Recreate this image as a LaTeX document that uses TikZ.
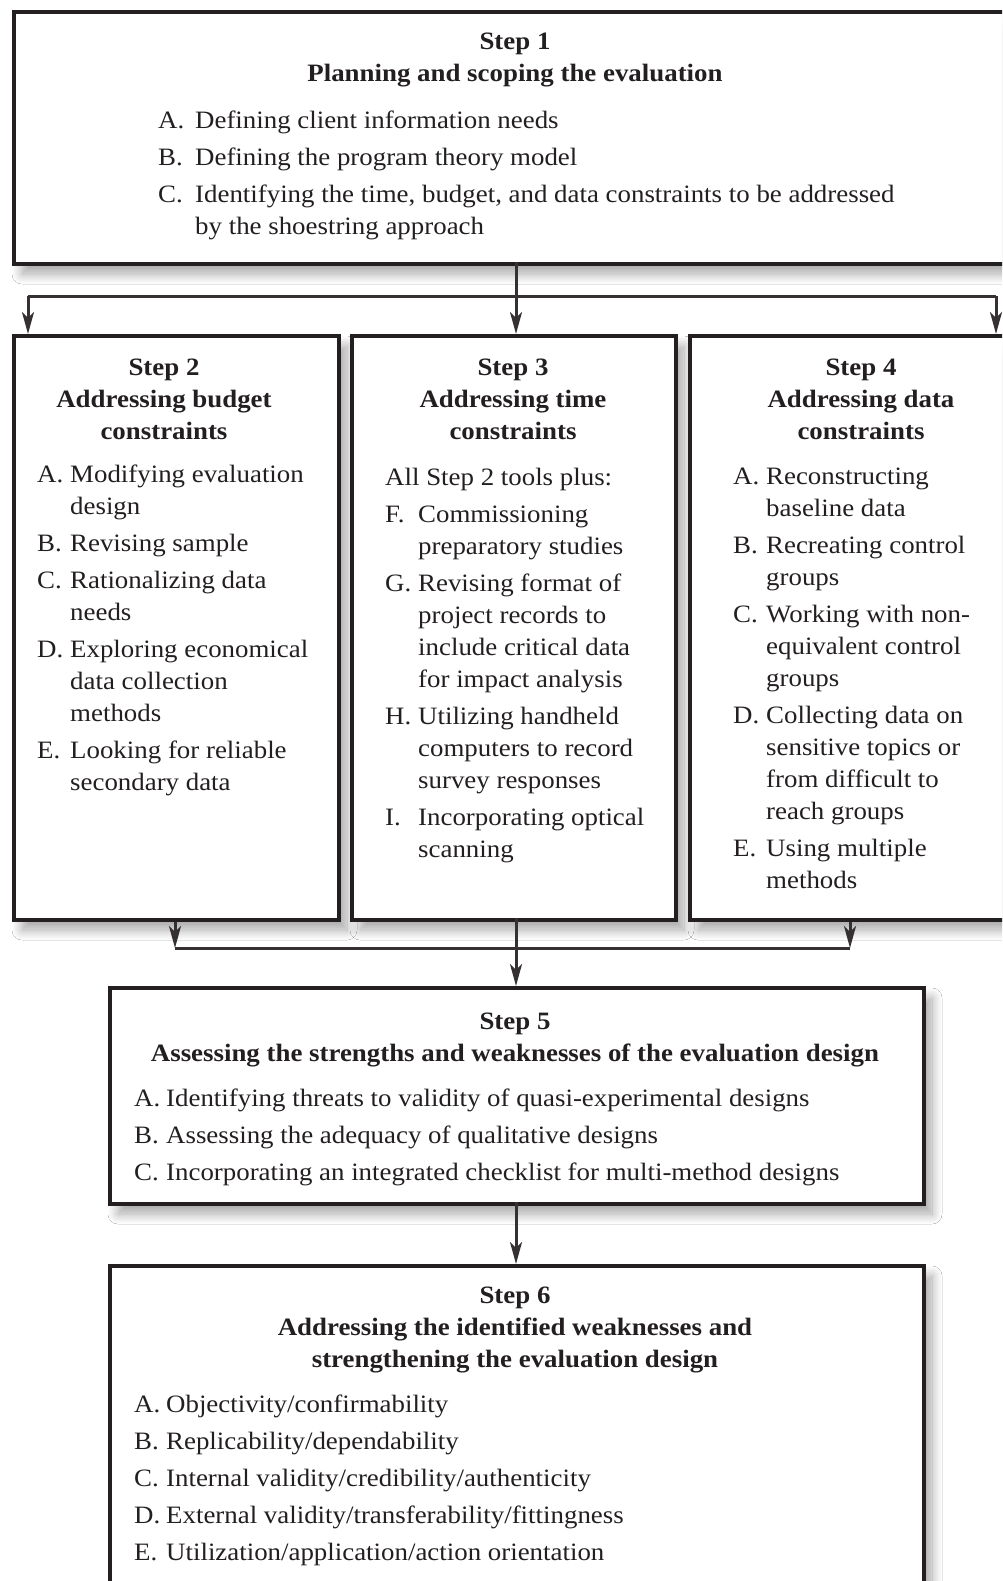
\documentclass[tikz,border=0pt]{standalone}
\usepackage{fontspec}
\setmainfont{Liberation Serif}[FakeStretch=1.075]
\usetikzlibrary{arrows.meta,shadows.blur}
\definecolor{ink}{HTML}{231F20}
\newcommand\fsz{\fontsize{25}{32}\selectfont}
\newcommand\lb[2][33pt]{\makebox[#1][l]{#2}}
\tikzset{
  x=1pt, y=-1pt,
  box/.style={draw=ink, line width=4pt, fill=white, rectangle, inner sep=0pt, anchor=north west,
    blur shadow={shadow xshift=8pt, shadow yshift=-10pt, shadow opacity=35, shadow blur radius=10pt, shadow blur steps=12}},
  conn/.style={draw=ink!92, line width=3pt},
  arr/.style={conn, -{Stealth[length=22pt,width=12pt,inset=6pt]}},
  ttl/.style={font=\fsz\bfseries, text=ink, align=center, anchor=base, inner sep=0pt},
  lst/.style={font=\fsz, text=ink, align=left, anchor=base west, inner sep=0pt},
}
\begin{document}
\begin{tikzpicture}
\useasboundingbox (0,0) rectangle (1002,1581);
\clip (0,0) rectangle (1002,1581);
\fill[white] (0,0) rectangle (1002,1581);
% boxes
\node[box, minimum width=1013pt, minimum height=252pt] (s1) at (12,10) {};
\node[box, minimum width=325pt, minimum height=584pt] (s2) at (12,334) {};
\node[box, minimum width=324pt, minimum height=584pt] (s3) at (350,334) {};
\node[box, minimum width=340pt, minimum height=584pt] (s4) at (688,334) {};
\node[box, minimum width=814pt, minimum height=216pt] (s5) at (108,986) {};
\node[box, minimum width=814pt, minimum height=360pt] (s6) at (108,1264) {};
% connectors
\coordinate (c1) at (516,262);
\coordinate (jl) at (28,296);
\coordinate (jr) at (996,296);
\draw[conn] (jl) -- (jr);
\draw[arr] (c1) -- (c1 |- s3.north);
\draw[arr] (jl) -- (jl |- s2.north);
\draw[arr] (jr) -- (jr |- s4.north);
\coordinate (ml) at (175,948);
\coordinate (mr) at (850,948);
\coordinate (mc) at (516,918);
\draw[arr] (ml |- s2.south) -- (ml);
\draw[arr] (mr |- s4.south) -- (mr);
\draw[conn] (ml) -- (mr);
\draw[arr] (mc) -- (mc |- s5.north);
\coordinate (m5) at (516,1202);
\draw[arr] (m5) -- (m5 |- s6.north);
% texts (anchor base = baseline of the last line)
\node[ttl] (t1) at (515,82) {Step 1\\Planning and scoping the evaluation};
\node[lst] (l1) at (158,234) {\lb[37pt]{A.}Defining client information needs\\[5pt]
\lb[37pt]{B.}Defining the program theory model\\[5pt]
\lb[37pt]{C.}Identifying the time, budget, and data constraints to be addressed\\
\lb[37pt]{}by the shoestring approach};
\node[ttl] (t2) at (164,439) {Step 2\\Addressing budget\\constraints};
\node[lst] (l2) at (37,790) {\lb{A.}Modifying evaluation\\
\lb{}design\\[5pt]
\lb{B.}Revising sample\\[5pt]
\lb{C.}Rationalizing data\\
\lb{}needs\\[5pt]
\lb{D.}Exploring economical\\
\lb{}data collection\\
\lb{}methods\\[5pt]
\lb{E.}Looking for reliable\\
\lb{}secondary data};
\node[ttl] (t3) at (513,439) {Step 3\\Addressing time\\constraints};
\node[lst] (l3) at (385,857) {All Step 2 tools plus:\\[5pt]
\lb{F.}Commissioning\\
\lb{}preparatory studies\\[5pt]
\lb{G.}Revising format of\\
\lb{}project records to\\
\lb{}include critical data\\
\lb{}for impact analysis\\[5pt]
\lb{H.}Utilizing handheld\\
\lb{}computers to record\\
\lb{}survey responses\\[5pt]
\lb{I.}Incorporating optical\\
\lb{}scanning};
\node[ttl] (t4) at (861,439) {Step 4\\Addressing data\\constraints};
\node[lst] (l4) at (733,888) {\lb{A.}Reconstructing\\
\lb{}baseline data\\[5pt]
\lb{B.}Recreating control\\
\lb{}groups\\[5pt]
\lb{C.}Working with non-\\
\lb{}equivalent control\\
\lb{}groups\\[5pt]
\lb{D.}Collecting data on\\
\lb{}sensitive topics or\\
\lb{}from difficult to\\
\lb{}reach groups\\[5pt]
\lb{E.}Using multiple\\
\lb{}methods};
\node[ttl] (t5) at (515,1061) {Step 5\\Assessing the strengths and weaknesses of the evaluation design};
\node[lst] (l5) at (134,1180) {\lb[32pt]{A.}Identifying threats to validity of quasi-experimental designs\\[5pt]
\lb[32pt]{B.}Assessing the adequacy of qualitative designs\\[5pt]
\lb[32pt]{C.}Incorporating an integrated checklist for multi-method designs};
\node[ttl] (t6) at (515,1367) {Step 6\\Addressing the identified weaknesses and\\strengthening the evaluation design};
\node[lst] (l6) at (134,1560) {\lb[32pt]{A.}Objectivity/confirmability\\[5pt]
\lb[32pt]{B.}Replicability/dependability\\[5pt]
\lb[32pt]{C.}Internal validity/credibility/authenticity\\[5pt]
\lb[32pt]{D.}External validity/transferability/fittingness\\[5pt]
\lb[32pt]{E.}Utilization/application/action orientation};
\end{tikzpicture}
\end{document}
